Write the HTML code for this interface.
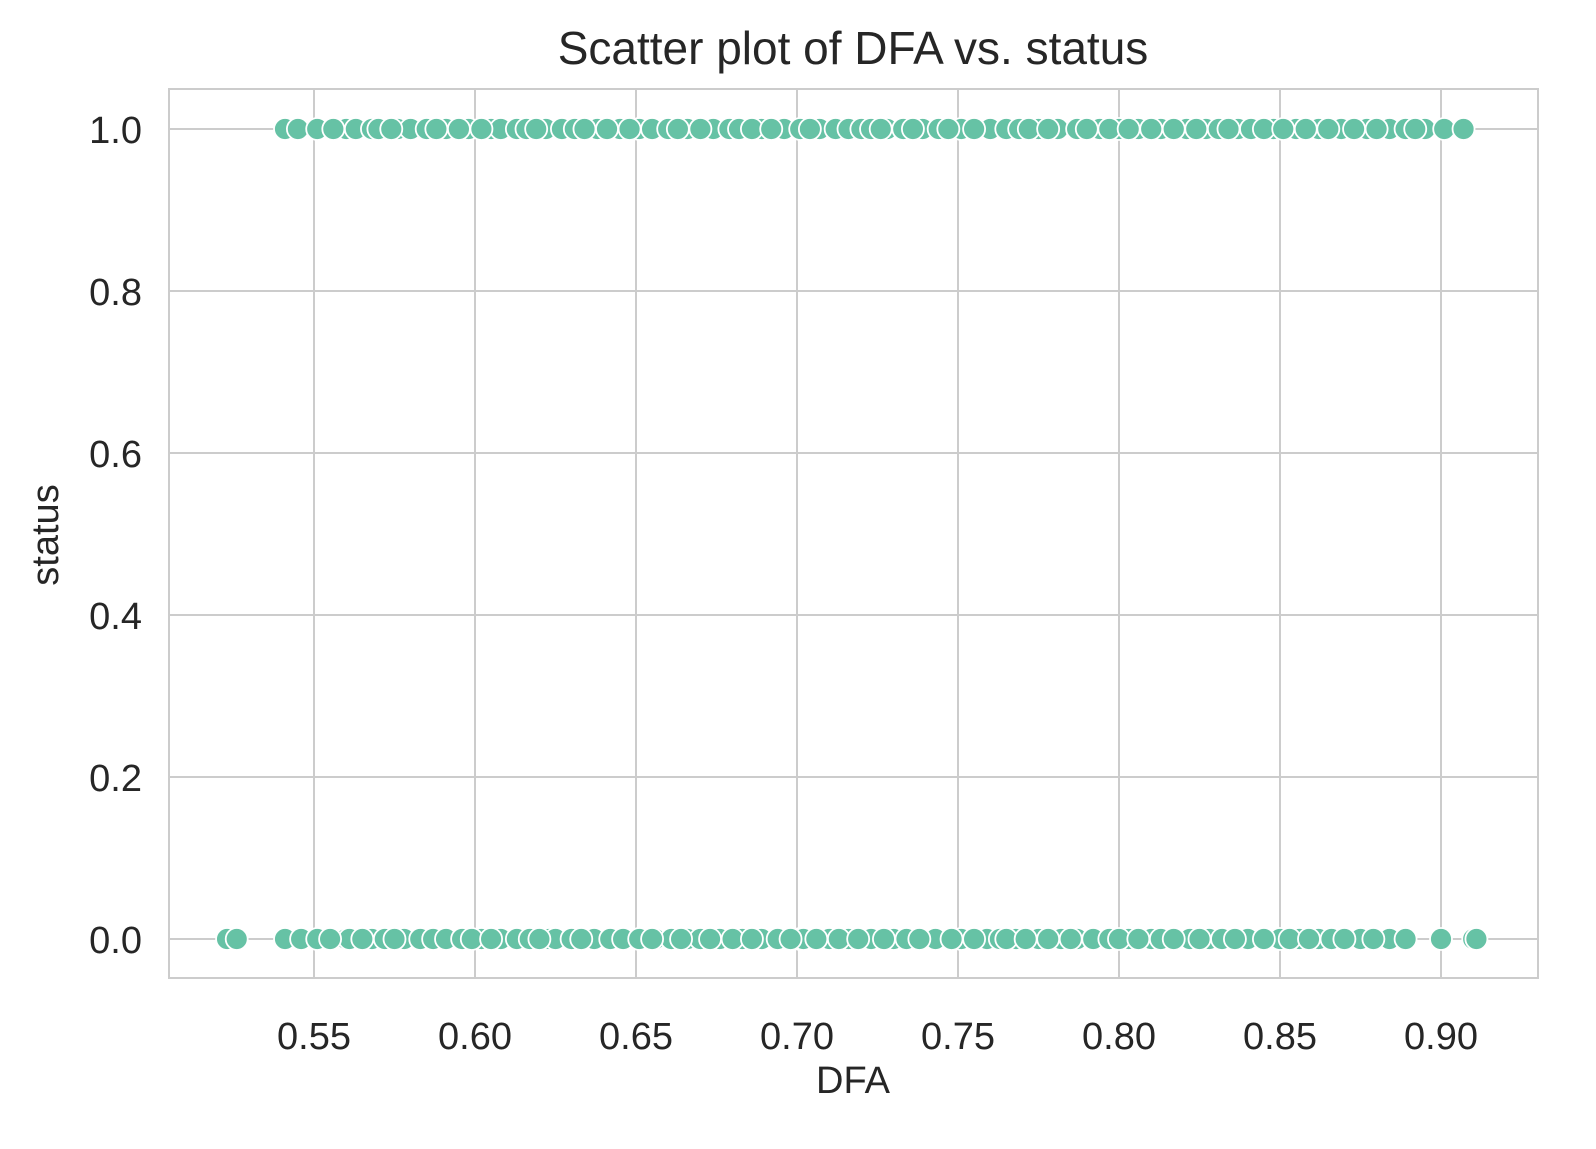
<!DOCTYPE html>
<html><head><meta charset="utf-8">
<style>
body{margin:0;background:#fff;}
svg{display:block;font-family:"Liberation Sans",Arial,sans-serif;}
</style></head>
<body>
<svg id="chart" width="1596" height="1149" viewBox="0 0 1596 1149" xmlns="http://www.w3.org/2000/svg">
<rect width="1596" height="1149" fill="#fff"/>
<g id="grid"></g>
<rect x="169" y="89" width="1369" height="889" fill="none" stroke="#cccccc" stroke-width="2"/>
<g id="points"></g>
<g id="ticks" fill="#262626" font-size="38"></g>
<text x="853" y="64" text-anchor="middle" font-size="46" fill="#262626">Scatter plot of DFA vs. status</text>
<text x="853" y="1093" text-anchor="middle" font-size="38" fill="#262626">DFA</text>
<text x="0" y="0" transform="translate(58,535) rotate(-90)" text-anchor="middle" font-size="38" fill="#262626">status</text>
</svg>
<script>
const xTicks=[0.55,0.60,0.65,0.70,0.75,0.80,0.85,0.90];
const xTickLabels=["0.55","0.60","0.65","0.70","0.75","0.80","0.85","0.90"];
const yTicks=[0,0.2,0.4,0.6,0.8,1.0];
const yTickLabels=["0.0","0.2","0.4","0.6","0.8","1.0"];
const dfaStatus1=[0.541,0.545,0.551,0.560,0.563,0.568,0.570,0.576,0.580,0.585,0.591,0.598,0.605,0.608,0.613,0.616,0.622,0.627,0.631,0.638,0.645,0.651,0.655,0.660,0.666,0.674,0.679,0.682,0.689,0.696,0.701,0.707,0.712,0.716,0.720,0.723,0.728,0.733,0.739,0.744,0.751,0.760,0.765,0.769,0.775,0.781,0.787,0.794,0.800,0.806,0.813,0.821,0.827,0.831,0.837,0.841,0.848,0.855,0.862,0.869,0.877,0.884,0.889,0.895,0.901,0.907,
0.556,0.574,0.588,0.595,0.602,0.619,0.634,0.641,0.648,0.663,0.670,0.686,0.692,0.704,0.726,0.736,0.747,0.755,0.772,0.778,0.790,0.797,0.803,0.810,0.817,0.824,0.834,0.845,0.851,0.858,0.865,0.873,0.880,0.892];
const dfaStatus0=[0.523,0.526,0.541,0.546,0.551,0.560,0.561,0.568,0.572,0.578,0.583,0.587,0.591,0.596,0.602,0.608,0.613,0.617,0.623,0.625,0.630,0.637,0.642,0.646,0.651,0.656,0.661,0.666,0.670,0.676,0.683,0.689,0.694,0.701,0.702,0.710,0.716,0.723,0.730,0.734,0.743,0.751,0.759,0.763,0.768,0.775,0.782,0.787,0.792,0.797,0.803,0.810,0.813,0.822,0.828,0.832,0.840,0.850,0.856,0.862,0.866,0.875,0.884,0.889,0.900,0.910,0.911,
0.555,0.565,0.575,0.599,0.605,0.620,0.633,0.655,0.664,0.673,0.680,0.686,0.698,0.706,0.713,0.719,0.727,0.738,0.748,0.755,0.765,0.771,0.778,0.785,0.800,0.806,0.817,0.825,0.836,0.845,0.853,0.859,0.870,0.879];
const NS="http://www.w3.org/2000/svg";
const X=v=>314+(v-0.55)*3220;
const Y=v=>939-v*810;
const grid=document.getElementById('grid'),ticks=document.getElementById('ticks'),pts=document.getElementById('points');
function mk(tag,attrs,parent){const e=document.createElementNS(NS,tag);for(const k in attrs)e.setAttribute(k,attrs[k]);parent.appendChild(e);return e;}
xTicks.forEach((v,i)=>{
  const l=mk('line',{x1:X(v),x2:X(v),y1:89,y2:978,stroke:'#cccccc','stroke-width':2},grid);
  
  
  const t=mk('text',{x:X(v),y:1049,'text-anchor':'middle'},ticks);
  t.textContent=xTickLabels[i];
  
  
});
yTicks.forEach((v,i)=>{
  const l=mk('line',{x1:169,x2:1538,y1:Y(v),y2:Y(v),stroke:'#cccccc','stroke-width':2},grid);
  
  
  const t=mk('text',{x:142,y:Y(v)+14,'text-anchor':'end'},ticks);
  t.textContent=yTickLabels[i];
  
  
});
function drawSeries(arr,status){
  arr.forEach(v=>{
    const c=mk('circle',{cx:X(v),cy:Y(status),r:11,fill:'#66c2a5',stroke:'#ffffff','stroke-width':1.8},pts);
    
    
  });
}
drawSeries(dfaStatus0,0);
drawSeries(dfaStatus1,1);
</script>
</body></html>
